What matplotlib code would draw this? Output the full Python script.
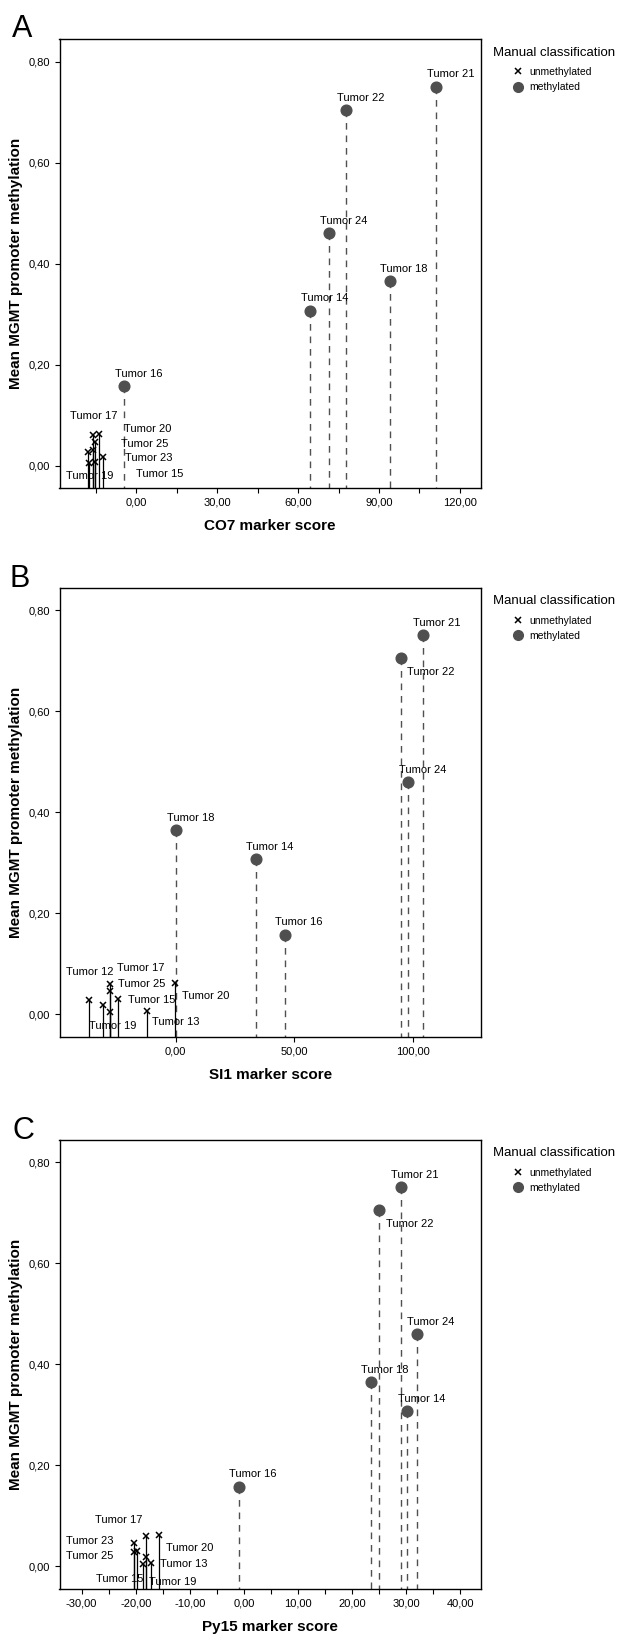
import matplotlib.pyplot as plt
from matplotlib.lines import Line2D
from matplotlib.ticker import FixedLocator, FuncFormatter

plt.rcParams['font.family'] = ['Liberation Sans', 'DejaVu Sans']
plt.rcParams['lines.scale_dashes'] = False

# datos: una fila por tumor
tumors = [12, 13, 14, 15, 16, 17, 18, 19, 20, 21, 22, 23, 24, 25]
methylation = [0.027, 0.007, 0.307, 0.030, 0.157, 0.060, 0.365, 0.005, 0.062,
               0.751, 0.705, 0.017, 0.460, 0.046]
status = ['unmethylated', 'unmethylated', 'methylated', 'unmethylated', 'methylated',
          'unmethylated', 'methylated', 'unmethylated', 'unmethylated', 'methylated',
          'methylated', 'unmethylated', 'methylated', 'unmethylated']
co7_score = [-17.7, -15.4, 64.4, -16.1, -4.5, -16.1, 94.0, -17.6, -13.9, 111.2,
             77.8, -12.4, 71.6, -15.4]
si1_score = [-36.7, -12.3, 33.8, -24.4, 46.0, -27.7, 0.2, -27.7, -0.1, 104.2,
             95.0, -30.8, 98.0, -27.7]
py15_score = [-20.3, -17.1, 30.2, -19.7, -1.0, -18.1, 23.4, -18.7, -15.7, 29.0,
              25.0, -18.1, 31.9, -20.3]

y_ticks = [0.0, 0.2, 0.4, 0.6, 0.8]

# posicion de las etiquetas (offset en puntos, alineacion)
STD = (10.3, 8.9, 'center')
labels_a = {14: STD, 16: STD, 18: STD, 21: STD, 22: STD, 24: STD,
            17: (0.4, 13.7, 'center'), 20: (18.2, 3.5, 'left'), 25: (18.9, -1.1, 'left'),
            23: (16.1, -0.6, 'left'), 15: (31.2, -17.3, 'left'), 19: (-16.3, -9.4, 'left')}
labels_b = {14: STD, 16: STD, 18: STD, 21: STD, 24: STD, 22: (21.8, -9.6, 'center'),
            12: (0.7, 20.7, 'center'), 17: (4.8, 11.1, 'left'), 25: (5.5, 4.7, 'left'),
            15: (7.2, -0.8, 'left'), 19: (-15.4, -10.2, 'left'), 13: (4.3, -8.6, 'left'),
            20: (4.8, -9.3, 'left')}
labels_c = {14: STD, 16: STD, 18: STD, 21: STD, 24: STD, 22: (21.8, -9.6, 'center'),
            17: (-19.7, 11.2, 'center'), 23: (-23.7, 11.7, 'right'), 25: (-14.9, -9.6, 'right'),
            20: (4.7, -9.5, 'left'), 13: (6.0, -0.8, 'left'), 15: (-29.9, -19.9, 'left'),
            19: (4.6, -13.3, 'left')}

YLIM = (-0.0445, 0.8455)
DOT = '#4f4f4f'


def coma(v, pos=None):
    return f'{v:.2f}'.replace('.', ',')


def dibujar_panel(ax, scores, xlim, major, minor, xlabel, etiquetas):
    ybot = YLIM[0]
    for t, x, y, s in zip(tumors, scores, methylation, status):
        if s == 'methylated':
            ax.plot([x, x], [y, ybot], color='#505050', lw=1.0, dashes=(4.8, 4.2), zorder=2)
            ax.plot(x, y, 'o', ms=7.7, color=DOT, mec=DOT, zorder=4)
        else:
            ax.plot([x, x], [ybot, y], color='black', lw=0.9, zorder=2)
            ax.plot(x, y, 'x', ms=5, mew=1.1, color='black', zorder=4)
        if t in etiquetas:
            dx, dy, ha = etiquetas[t]
            ax.annotate(f'Tumor {t}', (x, y), xytext=(dx, dy), textcoords='offset points',
                        ha=ha, va='center', fontsize=8, zorder=5)

    ax.set_xlim(*xlim)
    ax.set_ylim(*YLIM)
    ax.xaxis.set_major_locator(FixedLocator(major))
    ax.xaxis.set_minor_locator(FixedLocator(minor))
    ax.yaxis.set_major_locator(FixedLocator(y_ticks))
    ax.xaxis.set_major_formatter(FuncFormatter(coma))
    ax.yaxis.set_major_formatter(FuncFormatter(coma))
    ax.tick_params(which='both', direction='out', length=3.6, width=0.8, labelsize=8)
    ax.tick_params(axis='x', pad=3.5)
    ax.tick_params(axis='y', pad=3)
    for sp in ax.spines.values():
        sp.set_linewidth(1.0)

    ax.set_xlabel(xlabel, fontsize=11, fontweight='bold', va='center')
    ax.xaxis.set_label_coords(0.5, -38.5 / 449)
    ax.set_ylabel('Mean MGMT promoter methylation', fontsize=11, fontweight='bold', va='center')
    ax.yaxis.set_label_coords(-0.103, 0.5)

    # leyenda
    ax.text(1.0285, 1 - 14 / 449, 'Manual classification', transform=ax.transAxes,
            ha='left', va='center', fontsize=9.5)
    handles = [Line2D([], [], marker='x', ls='none', color='black', ms=5, mew=1.1),
               Line2D([], [], marker='o', ls='none', color=DOT, ms=7)]
    ax.legend(handles, ['unmethylated', 'methylated'], loc='upper left',
              bbox_to_anchor=(1.0747, 1 - 28 / 449), frameon=False, fontsize=7.5,
              borderpad=0, borderaxespad=0, handlelength=1.0, handletextpad=0.6,
              labelspacing=0.5)


fig = plt.figure(figsize=(6.2, 16.36), dpi=100)
w, h = 421.5 / 620, 449 / 1636
ax_a = fig.add_axes([59.5 / 620, (1636 - 488) / 1636, w, h])
ax_b = fig.add_axes([59.5 / 620, (1636 - 1036.5) / 1636, w, h])
ax_c = fig.add_axes([59.5 / 620, (1636 - 1588.5) / 1636, w, h])

dibujar_panel(ax_a, co7_score, (-28.4, 127.8), [0, 30, 60, 90, 120],
              [-15, 15, 45, 75, 105], 'CO7 marker score', labels_a)
dibujar_panel(ax_b, si1_score, (-49, 128.8), [0, 50, 100], [],
              'SI1 marker score', labels_b)
dibujar_panel(ax_c, py15_score, (-34.1, 43.8), [-30, -20, -10, 0, 10, 20, 30, 40],
              [-25, -15, -5, 5, 15, 25, 35], 'Py15 marker score', labels_c)

for letra, x, ybase in [('A', 12, 37), ('B', 10, 587), ('C', 12, 1139)]:
    fig.text(x / 620, 1 - ybase / 1636, letra, fontsize=22, ha='left', va='baseline')

fig.savefig('out.png', dpi=100)
